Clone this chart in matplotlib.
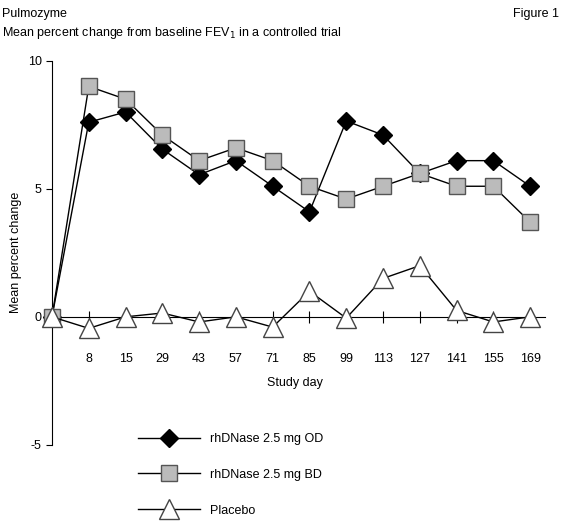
import matplotlib
matplotlib.use("Agg")
import matplotlib.pyplot as plt

plt.rcParams['font.family'] = ['Liberation Sans', 'DejaVu Sans']
plt.rcParams['axes.unicode_minus'] = False

days = [0, 8, 15, 29, 43, 57, 71, 85, 99, 113, 127, 141, 155, 169]
od = [0, 7.6, 8.0, 6.55, 5.55, 6.1, 5.1, 4.1, 7.65, 7.1, 5.6, 6.1, 6.1, 5.1]
bd = [0, 9.0, 8.5, 7.1, 6.1, 6.6, 6.1, 5.1, 4.6, 5.1, 5.6, 5.1, 5.1, 3.7]
placebo = [0, -0.45, 0, 0.15, -0.2, 0, -0.4, 1.0, -0.05, 1.5, 2.0, 0.25, -0.2, 0]

# study days are plotted at evenly spaced positions
pos = list(range(len(days)))

fig = plt.figure(figsize=(5.62, 5.24), dpi=100)
ax = fig.add_axes([0.0925, 0.151, 0.877, 0.733])

ax.plot(pos, od, color='black', lw=1, marker='D', ms=9, mfc='black', mec='black',
        label='rhDNase 2.5 mg OD', zorder=3, clip_on=False)
ax.plot(pos, bd, color='black', lw=1, marker='s', ms=12, mfc='#bbbbbb', mec='#555555',
        label='rhDNase 2.5 mg BD', zorder=4, clip_on=False)
ax.plot(pos, placebo, color='black', lw=1, marker='^', ms=14, mfc='white', mec='#444444',
        label='Placebo', zorder=5, clip_on=False)

ax.set_xlim(0, 13.4)
ax.set_ylim(-5, 10)
ax.spines['top'].set_visible(False)
ax.spines['right'].set_visible(False)
ax.spines['bottom'].set_position(('data', 0))
ax.set_xticks(pos[1:])
ax.set_xticklabels([str(d) for d in days[1:]])
ax.tick_params(axis='x', direction='inout', length=8, pad=22, labelsize=9)
ax.set_yticks([-5, 0, 5, 10])
ax.tick_params(axis='y', direction='out', length=4, labelsize=9)
ax.set_ylabel('Mean percent change', fontsize=9)
ax.text(6.6, -2.6, 'Study day', ha='center', va='center', fontsize=9)

fig.legend(loc='upper left', bbox_to_anchor=(0.225, 0.195), frameon=False, fontsize=9,
           handlelength=5, labelspacing=1.9, handletextpad=0.8)

fig.text(0.004, 0.985, 'Pulmozyme', ha='left', va='top', fontsize=9)
fig.text(0.004, 0.952, 'Mean percent change from baseline FEV$_1$ in a controlled trial',
         ha='left', va='top', fontsize=9)
fig.text(0.995, 0.985, 'Figure 1', ha='right', va='top', fontsize=9)

fig.savefig('out.png', dpi=100)
